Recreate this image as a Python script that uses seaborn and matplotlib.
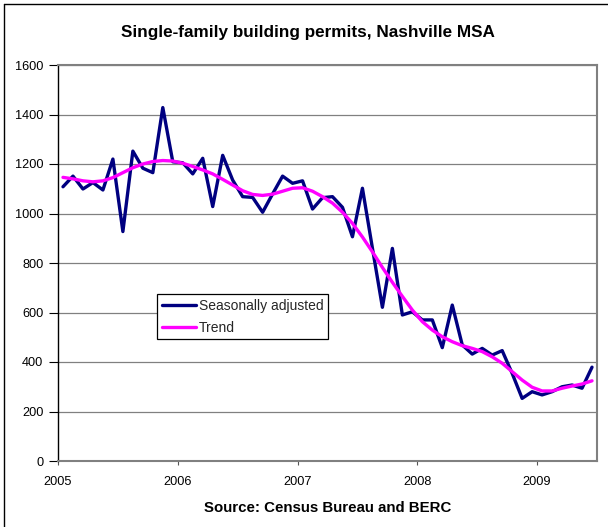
import pandas as pd
import numpy as np
import matplotlib
matplotlib.use("Agg")
import matplotlib.pyplot as plt
from matplotlib.lines import Line2D
import seaborn as sns

# Monthly data, Jan 2005 - Jun 2009
seasonally_adjusted = [1108, 1151, 1099, 1125, 1095, 1220, 927, 1252, 1183, 1165,
                       1428, 1209, 1205, 1160, 1223, 1028, 1235, 1135, 1068, 1065,
                       1005, 1079, 1151, 1122, 1132, 1018, 1064, 1068, 1025, 906,
                       1102, 860, 621, 859, 590, 603, 570, 570, 458, 630,
                       469, 432, 455, 428, 446, 354, 253, 280, 267, 280,
                       300, 307, 294, 379]
trend = [1146, 1140, 1132, 1128, 1132, 1145, 1165, 1185, 1200, 1210,
         1214, 1212, 1203, 1190, 1176, 1160, 1138, 1115, 1092, 1077,
         1073, 1078, 1090, 1102, 1104, 1090, 1068, 1042, 1005, 960,
         905, 845, 782, 722, 665, 610, 563, 529, 502, 482,
         466, 455, 442, 421, 395, 361, 327, 298, 283, 283,
         294, 303, 311, 324]
year_ticks = [2005, 2006, 2007, 2008, 2009]

months = pd.date_range("2005-01-01", periods=len(seasonally_adjusted), freq="MS")
df = pd.DataFrame({
    "x": months.year + (months.month - 0.5) / 12,
    "sa": seasonally_adjusted,
    "trend": trend,
})

sns.set_theme(style="white")
plt.rcParams["font.family"] = ["Liberation Sans", "DejaVu Sans"]

W, H = 608, 527
fig = plt.figure(figsize=(W / 100, H / 100), dpi=100)
ax = fig.add_axes([58 / W, 1 - 461 / H, 539 / W, 396 / H])

sns.lineplot(data=df, x="x", y="sa", color="#000080", linewidth=2.4,
             label="Seasonally adjusted", ax=ax)
sns.lineplot(data=df, x="x", y="trend", color="#FF00FF", linewidth=2.4,
             label="Trend", ax=ax)

ax.set_xlim(2005, 2009.5)
ax.set_ylim(0, 1600)
ax.set_yticks(range(0, 1601, 200))
ax.set_xticks(year_ticks)
ax.set_xticklabels([str(y) for y in year_ticks])
ax.yaxis.grid(True, color="#808080", linewidth=0.9)
ax.xaxis.grid(False)
ax.set_axisbelow(True)

ax.tick_params(axis="y", direction="out", length=6.5, width=0.8, color="black",
               pad=4, labelsize=9.2, left=True, labelcolor="black")
ax.tick_params(axis="x", direction="out", length=3, width=0.8, color="#555555",
               pad=7.5, labelsize=9.2, bottom=True, labelcolor="black")

for side in ["top", "right", "bottom"]:
    ax.spines[side].set_color("#808080")
    ax.spines[side].set_linewidth(1.5)
ax.spines["left"].set_color("black")
ax.spines["left"].set_linewidth(1.0)

ax.set_ylabel("")
ax.set_xlabel("Source: Census Bureau and BERC", fontsize=10.8, fontweight="bold",
              labelpad=10, color="black")

fig.text(308 / W, 1 - 33 / H, "Single-family building permits, Nashville MSA",
         ha="center", va="center", fontsize=12.3, fontweight="bold", color="black")

leg = ax.legend(loc="upper left", bbox_to_anchor=((157 - 58) / 539, (461 - 294) / 396),
                fontsize=10, frameon=True, fancybox=False, edgecolor="black",
                handlelength=2.45, handletextpad=0.2, borderpad=0.35,
                labelspacing=0.55, borderaxespad=0)
leg.get_frame().set_linewidth(0.9)
leg.get_frame().set_alpha(1)

# outer chart border (left and top visible)
fig.add_artist(Line2D([3.5 / W, 3.5 / W], [0, 1 - 4 / H], color="black", lw=1))
fig.add_artist(Line2D([3.5 / W, 1], [1 - 4 / H, 1 - 4 / H], color="black", lw=1))

fig.savefig("out.png", dpi=100)
